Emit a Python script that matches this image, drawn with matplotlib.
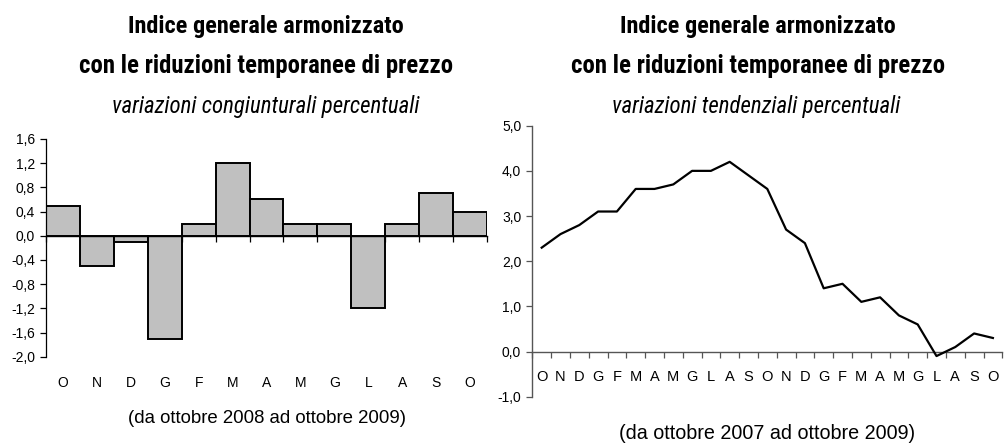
import matplotlib
matplotlib.use("Agg")
import matplotlib.pyplot as plt
import matplotlib.font_manager as fm
from matplotlib.ticker import FuncFormatter, FixedLocator
import matplotlib.transforms as mtrans
import numpy as np

# ---------------- data ----------------
months_left = ["O", "N", "D", "G", "F", "M", "A", "M", "G", "L", "A", "S", "O"]
cong_values = [0.5, -0.5, -0.1, -1.7, 0.2, 1.2, 0.6, 0.2, 0.2, -1.2, 0.2, 0.7, 0.4]

months_right = ["O", "N", "D", "G", "F", "M", "A", "M", "G", "L", "A", "S",
                "O", "N", "D", "G", "F", "M", "A", "M", "G", "L", "A", "S", "O"]
tend_values = [2.3, 2.6, 2.8, 3.1, 3.1, 3.6, 3.6, 3.7, 4.0, 4.0, 4.2, 3.9,
               3.6, 2.7, 2.4, 1.4, 1.5, 1.1, 1.2, 0.8, 0.6, -0.1, 0.1, 0.4, 0.3]

left_yticks = [-2.0, -1.6, -1.2, -0.8, -0.4, 0.0, 0.4, 0.8, 1.2, 1.6]
right_yticks = [-1.0, 0.0, 1.0, 2.0, 3.0, 4.0, 5.0]

title_l1 = "Indice generale armonizzato"
title_l2 = "con le riduzioni temporanee di prezzo"
sub_left = "variazioni congiunturali percentuali"
sub_right = "variazioni tendenziali percentuali"
note_left = "(da ottobre 2008 ad ottobre 2009)"
note_right = "(da ottobre 2007 ad ottobre 2009)"

# ---------------- fonts ----------------
names = {f.name for f in fm.fontManager.ttflist}
narrow_candidates = ["Roboto Condensed", "PT Sans Narrow", "Liberation Sans Narrow"]
narrow = next((n for n in narrow_candidates if n in names), "Liberation Sans")
regular = "Liberation Sans" if "Liberation Sans" in names else "DejaVu Sans"
plt.rcParams["font.family"] = [regular, "DejaVu Sans"]
NARROW = [narrow, "DejaVu Sans"]

comma_fmt = FuncFormatter(lambda v, p: f"{v:.1f}".replace(".", ","))

fig = plt.figure(figsize=(10.05, 4.44), dpi=100)

# ---------------- left chart ----------------
axL = fig.add_axes([46 / 1005, 1 - 356.7 / 444, 441 / 1005, 217.7 / 444])
xL = np.arange(len(cong_values))
axL.bar(xL, cong_values, width=1.0, color="#C0C0C0", edgecolor="black",
        linewidth=1.4, zorder=2)
axL.set_xlim(-0.5, len(cong_values) - 0.5)
axL.set_ylim(-2.0, 1.6)
for s in ["top", "right"]:
    axL.spines[s].set_visible(False)
axL.spines["left"].set_linewidth(0.9)
axL.spines["bottom"].set_position(("data", 0))
axL.spines["bottom"].set_linewidth(1.0)
axL.spines["bottom"].set_zorder(3)
axL.xaxis.set_major_locator(FixedLocator(np.arange(len(cong_values) + 1) - 0.5))
axL.tick_params(axis="x", which="major", direction="out", length=4, width=0.9,
                labelbottom=False)
axL.yaxis.set_major_locator(FixedLocator(left_yticks))
axL.yaxis.set_major_formatter(comma_fmt)
axL.tick_params(axis="y", direction="out", length=4, width=0.9, pad=4,
                labelsize=10)
transL = mtrans.blended_transform_factory(axL.transData, axL.transAxes)
for xi, m in zip(xL, months_left):
    axL.text(xi, -0.119, m, transform=transL, ha="center", va="center",
             fontsize=10)

# ---------------- right chart ----------------
axR = fig.add_axes([532.3 / 1005, 1 - 396.7 / 444, 470 / 1005, 271 / 444])
xR = np.arange(len(tend_values))
axR.plot(xR, tend_values, color="black", linewidth=1.6, zorder=3)
axR.set_xlim(-0.5, len(tend_values) - 0.5)
axR.set_ylim(-1.0, 5.0)
for s in ["top", "right"]:
    axR.spines[s].set_visible(False)
axR.spines["left"].set_color("#555555")
axR.spines["left"].set_linewidth(1.0)
axR.spines["bottom"].set_position(("data", 0))
axR.spines["bottom"].set_color("#555555")
axR.spines["bottom"].set_linewidth(1.0)
axR.xaxis.set_major_locator(FixedLocator(np.arange(len(tend_values) + 1) - 0.5))
axR.tick_params(axis="x", which="major", direction="out", length=4, width=0.9,
                color="#555555", labelbottom=False)
axR.yaxis.set_major_locator(FixedLocator(right_yticks))
axR.yaxis.set_major_formatter(comma_fmt)
axR.tick_params(axis="y", direction="out", length=4, width=0.9, pad=4,
                color="#555555", labelsize=10)
transR = mtrans.blended_transform_factory(axR.transData, axR.transAxes)
for xi, m in zip(xR, months_right):
    axR.text(xi, 0.074, m, transform=transR, ha="center", va="center",
             fontsize=10.5)

# ---------------- titles & notes ----------------
for cx in (266 / 1005, 758 / 1005):
    fig.text(cx, 1 - 27 / 444, title_l1, ha="center", va="center",
             fontsize=17.5, fontweight="bold", family=NARROW)
    fig.text(cx, 1 - 66.5 / 444, title_l2, ha="center", va="center",
             fontsize=17.8, fontweight="bold", family=NARROW)
fig.text(266 / 1005, 1 - 106 / 444, sub_left, ha="center", va="center",
         fontsize=16.5, style="italic", family=NARROW)
fig.text(756 / 1005, 1 - 106 / 444, sub_right, ha="center", va="center",
         fontsize=16.5, style="italic", family=NARROW)
fig.text(267 / 1005, 1 - 418.3 / 444, note_left, ha="center", va="center",
         fontsize=13.4)
fig.text(767 / 1005, 1 - 433.5 / 444, note_right, ha="center", va="center",
         fontsize=14.2)

fig.savefig("out.png", dpi=100)
